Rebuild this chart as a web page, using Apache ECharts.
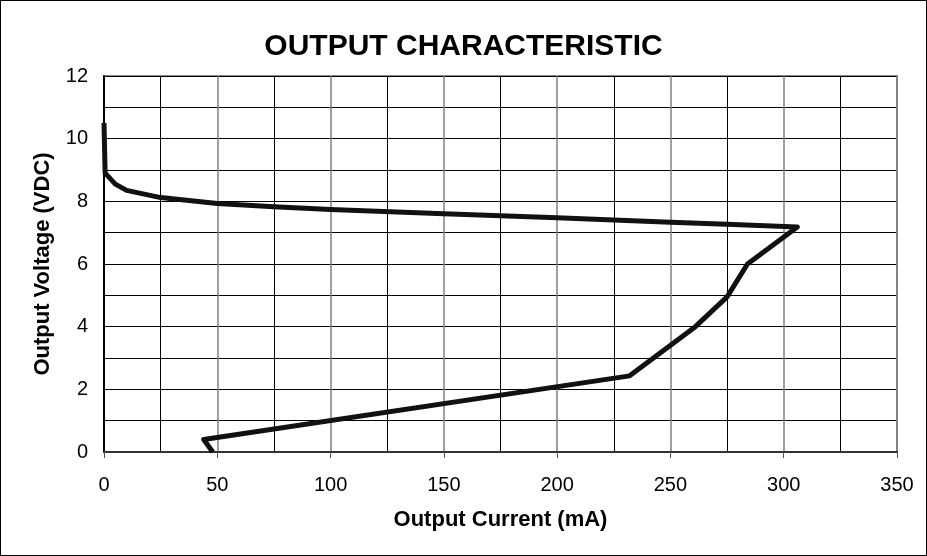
<!DOCTYPE html>
<html>
<head>
<meta charset="utf-8">
<script src="https://cdn.jsdelivr.net/npm/echarts@6/dist/echarts.min.js"></script>
<style>
  html, body { margin: 0; padding: 0; background: #fff; }
  #chartOutput { width: 927px; height: 556px; box-sizing: border-box; border: 1px solid #000; }
</style>
</head>
<body>
<div id="chartOutput"></div>
<script>
// output current (mA) / output voltage (VDC)
var currentMa = [0, 0.5, 5, 10, 25, 50, 75, 100, 150, 200, 250, 275, 306, 284, 275, 261, 232, 44, 48];
var voltageV  = [10.5, 8.9, 8.55, 8.35, 8.12, 7.93, 7.83, 7.74, 7.6, 7.48, 7.33, 7.27, 7.18, 6.0, 4.95, 4.0, 2.43, 0.4, 0];
var xTicks = { min: 0, max: 350, step: 50 };
var yTicks = { min: 0, max: 12, step: 2 };

var points = currentMa.map(function (c, i) { return [c, voltageV[i]]; });

var chartOutput = echarts.init(document.getElementById('chartOutput'));
var chart_option = {
  animation: false,
  textStyle: { fontFamily: 'Liberation Sans, Arial, sans-serif' },
  title: {
    text: 'OUTPUT CHARACTERISTIC',
    left: 'center',
    top: 26,
    textStyle: { fontSize: 30, fontWeight: 'bold', color: '#000' }
  },
  grid: {
    left: 103,
    right: 29,
    top: 75,
    bottom: 103,
    show: true,
    borderColor: '#888',
    borderWidth: 2
  },
  xAxis: {
    type: 'value',
    min: xTicks.min,
    max: xTicks.max,
    interval: xTicks.step,
    name: 'Output Current (mA)',
    nameLocation: 'middle',
    nameGap: 57,
    nameTextStyle: { fontSize: 22, fontWeight: 'bold', color: '#000' },
    axisLine: { lineStyle: { color: '#333', width: 2 } },
    axisTick: { show: true, length: 6, lineStyle: { color: '#555' } },
    axisLabel: { fontSize: 20, color: '#000', margin: 23 },
    splitLine: { show: true, lineStyle: { color: '#808080', width: 1.5 } },
    minorTick: { show: false, splitNumber: 2 },
    minorSplitLine: { show: true, lineStyle: { color: '#000', width: 1 } }
  },
  yAxis: {
    type: 'value',
    min: yTicks.min,
    max: yTicks.max,
    interval: yTicks.step,
    name: 'Output Voltage (VDC)',
    nameLocation: 'middle',
    nameGap: 50,
    nameTextStyle: { fontSize: 22, fontWeight: 'bold', color: '#000' },
    axisLine: { lineStyle: { color: '#000', width: 2 } },
    axisTick: { show: false },
    minorTick: { show: false, splitNumber: 2 },
    axisLabel: { fontSize: 20, color: '#000', margin: 16 },
    splitLine: { show: true, lineStyle: { color: '#000', width: 1 } },
    minorSplitLine: { show: true, lineStyle: { color: '#000', width: 1 } }
  },
  series: [
    {
      type: 'line',
      data: points,
      showSymbol: false,
      smooth: false,
      lineStyle: { color: '#111', width: 5, join: 'round' }
    }
  ]
};
chartOutput.setOption(chart_option);
</script>
</body>
</html>
